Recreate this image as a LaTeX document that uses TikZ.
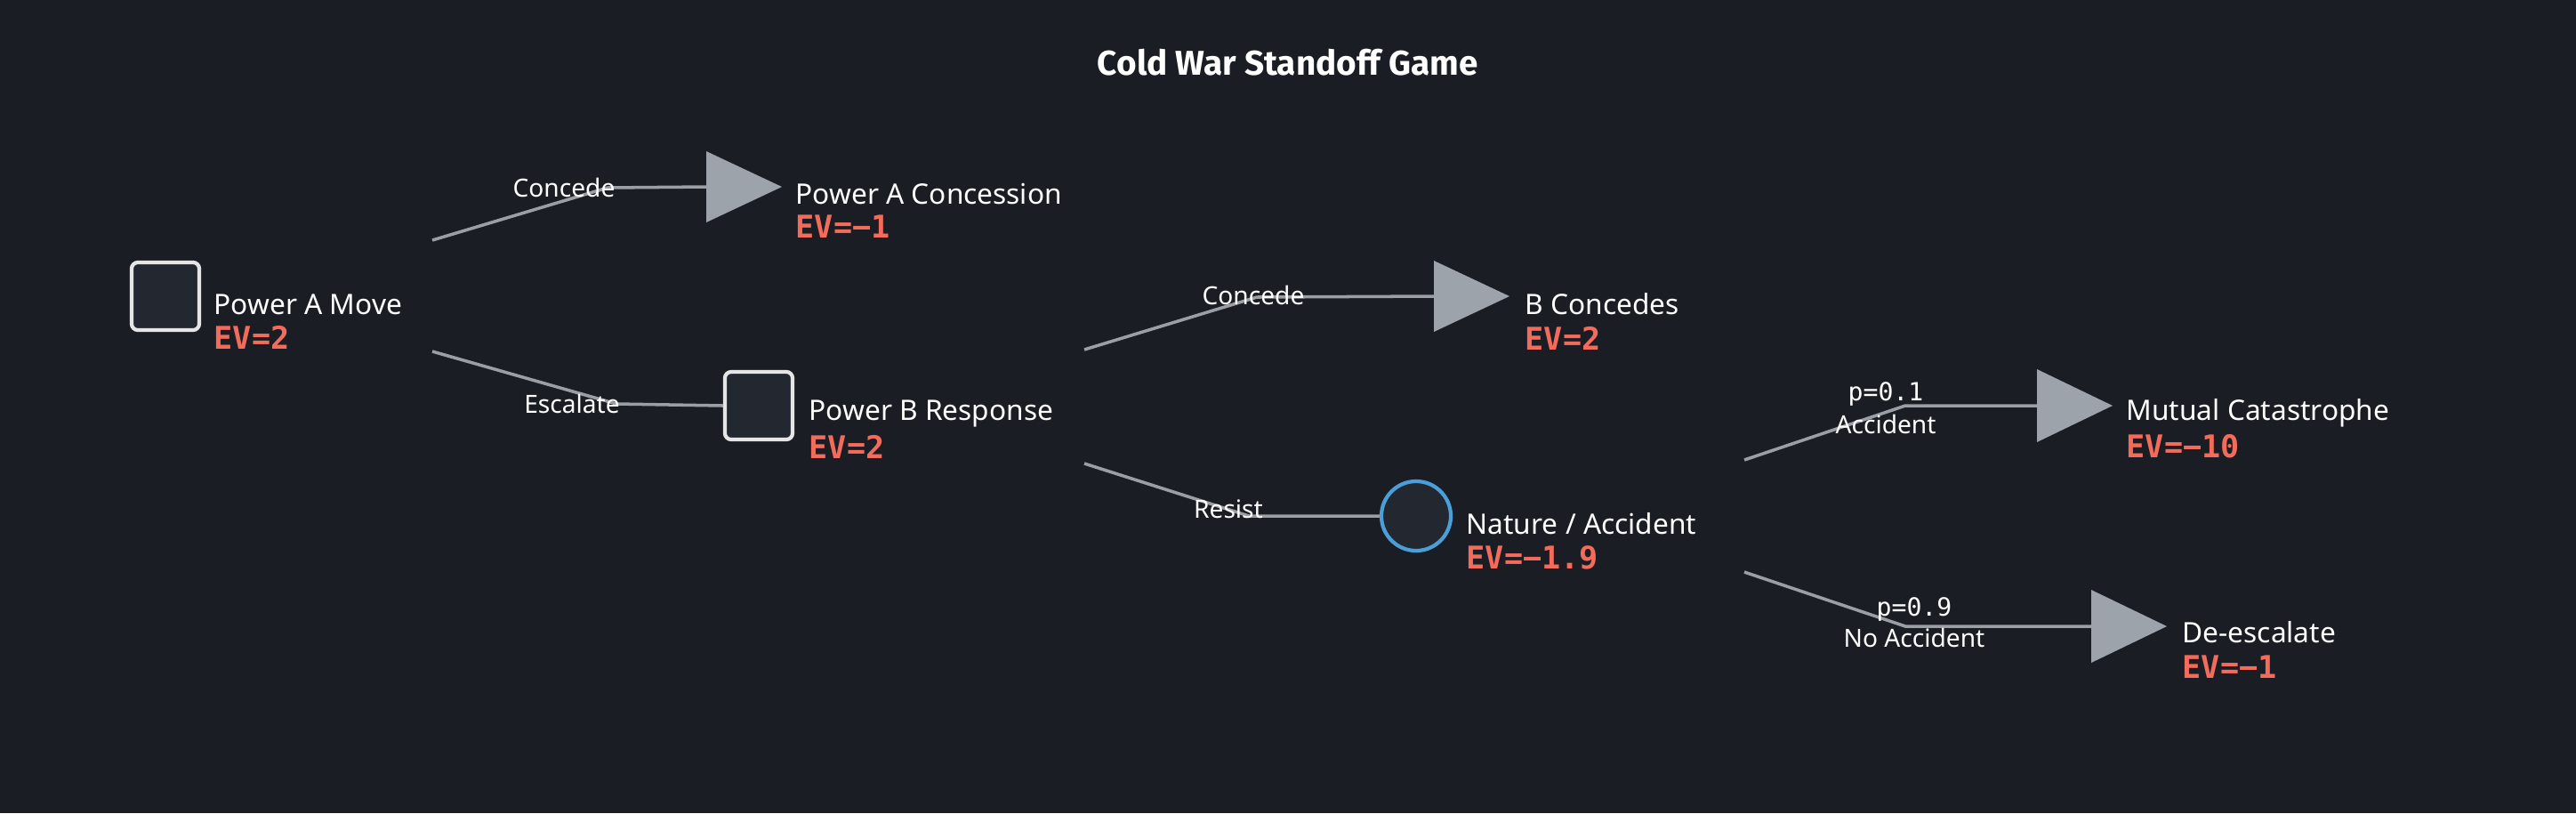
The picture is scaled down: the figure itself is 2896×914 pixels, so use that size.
\documentclass[tikz,border=0pt]{standalone}
\usepackage{fontspec}
\setmainfont{Noto Sans}
\newfontfamily\evfont{DejaVu Sans Mono}
\newfontfamily\titlefont{Fira Sans}
\usetikzlibrary{calc}
\definecolor{bgdark}{HTML}{1B1D24}
\definecolor{edgegray}{HTML}{9A9EA5}
\definecolor{leafgray}{HTML}{9CA3AB}
\definecolor{boxfill}{HTML}{23272F}
\definecolor{chanceblue}{HTML}{4A9FD8}
\definecolor{evred}{HTML}{F26B5B}
\tikzset{
    decision/.style={draw=white!90!black, fill=boxfill, line width=1.2pt, rounded corners=2pt, minimum size=0.76cm, inner sep=0pt},
    chance/.style={circle, draw=chanceblue, fill=boxfill, line width=1.2pt, minimum size=0.78cm, inner sep=0pt},
    branch/.style={edgegray, line width=1pt},
    leaf/.style={fill=leafgray},
    nodelabel/.style={anchor=west, text=white, font=\fontsize{9}{10}\selectfont, inner sep=0pt},
    ev/.style={anchor=west, text=evred, font=\fontsize{10}{11}\selectfont\evfont\bfseries, inner sep=0pt},
    act/.style={text=white, font=\fontsize{8}{9}\selectfont, inner sep=0pt},
    prob/.style={text=white, font=\fontsize{8}{9}\selectfont\evfont, inner sep=0pt}
}
\begin{document}
\begin{tikzpicture}[x=0.01cm, y=-0.01cm]
            \fill[bgdark] (0,0) rectangle (2896,914);
            \useasboundingbox (0,0) rectangle (2896,914);

            \node[text=white, font=\fontsize{11}{12}\selectfont\titlefont\bfseries] (title) at (1448,70) {Cold War Standoff Game};

            \node[decision] (pamove) at (186,333) {};
            \node[decision] (pbresp) at (853,456) {};
            \node[chance] (nature) at (1592,580) {};

            \coordinate (tconc) at (794,210);
            \coordinate (tbconc) at (1612,333);
            \coordinate (tcat) at (2290,456);
            \coordinate (tdesc) at (2351,704);

            \coordinate (aup) at (486,270);
            \coordinate (adown) at (486,395);
            \coordinate (bup) at (1219,393);
            \coordinate (bdown) at (1219,521);
            \coordinate (nup) at (1961,517);
            \coordinate (ndown) at (1961,643);

            \draw[branch] (aup) -- (683,211) -- (tconc);
            \draw[branch] (adown) -- (693,454) -- (pbresp.west);
            \draw[branch] (bup) -- (1413,334) -- (tbconc);
            \draw[branch] (bdown) -- (1404,580) -- (nature.west);
            \draw[branch] (nup) -- (2142,456) -- (tcat);
            \draw[branch] (ndown) -- (2142,704) -- (tdesc);

            \fill[leaf] (tconc) -- ++(0,-40) -- ++(85,40) -- ++(-85,40) -- cycle;
            \fill[leaf] (tbconc) -- ++(0,-40) -- ++(85,40) -- ++(-85,40) -- cycle;
            \fill[leaf] (tcat) -- ++(0,-41) -- ++(85,41) -- ++(-85,41) -- cycle;
            \fill[leaf] (tdesc) -- ++(0,-41) -- ++(85,41) -- ++(-85,41) -- cycle;

            \node[nodelabel] (pamovename) at (240,342) {Power A Move};
            \node[ev] (pamoveev) at (240,379) {EV=2};
            \node[nodelabel] (concname) at (894,218) {Power A Concession};
            \node[ev] (concev) at (894,255) {EV=−1};
            \node[nodelabel] (pbrespname) at (909,465) {Power B Response};
            \node[ev] (pbrespev) at (909,502) {EV=2};
            \node[nodelabel] (bconcname) at (1714,342) {B Concedes};
            \node[ev] (bconcev) at (1714,380) {EV=2};
            \node[nodelabel] (naturename) at (1648,589) {Nature / Accident};
            \node[ev] (natureev) at (1648,627) {EV=−1.9};
            \node[nodelabel] (catname) at (2390,464) {Mutual Catastrophe};
            \node[ev] (catev) at (2390,502) {EV=−10};
            \node[nodelabel] (descname) at (2453,711) {De-escalate};
            \node[ev] (descev) at (2453,750) {EV=−1};

            \node[act] (lconc) at (634,211) {Concede};
            \node[act] (lesc) at (643,454) {Escalate};
            \node[act] (lbconc) at (1409,332) {Concede};
            \node[act] (lresist) at (1381,572) {Resist};
            \node[prob] (pacc) at (2120,443) {p=0.1};
            \node[act] (lacc) at (2120,477) {Accident};
            \node[prob] (pnoacc) at (2152,685) {p=0.9};
            \node[act] (lnoacc) at (2152,717) {No Accident};
        \end{tikzpicture}
\end{document}
